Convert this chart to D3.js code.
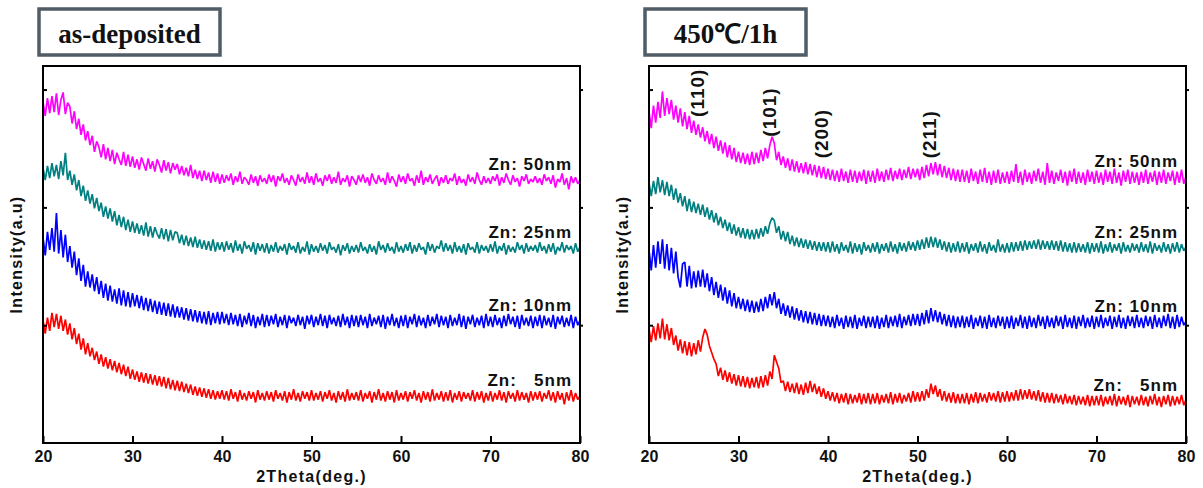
<!DOCTYPE html>
<html>
<head>
<meta charset="utf-8">
<script src="https://cdn.jsdelivr.net/npm/d3@7"></script>
<style>
  body { margin: 0; background: #fff; }
  .frame { fill: none; stroke: #000; stroke-width: 2; }
  .axis path { display: none; }
  .axis line { stroke: #000; stroke-width: 2; }
  .axis text { font-family: "Liberation Sans", Arial, sans-serif; font-weight: bold; font-size: 16px; fill: #111; }
  .trace { fill: none; stroke-width: 1.7; stroke-linejoin: bevel; }
</style>
</head>
<body>
<div id="chart"></div>
<script>
// XRD scans, 2theta from 20 to 80 deg, one point every 0.25 deg (241 points)
var scanStart = 20;
var scanStep = 0.25;

// as-deposited
var asDep50 = [
  362,347,366,350,368,351,371,348,364,372,349,361,357,339,352,333,344,327,338,321,
  331,316,326,309,320,314,303,317,301,313,299,311,296,308,301,295,309,294,306,293,
  304,292,301,290,303,296,289,302,291,299,288,301,295,287,300,289,298,286,297,290,
  296,285,294,284,292,283,295,281,290,280,289,278,289,279,287,276,288,277,286,275,
  285,276,284,278,286,274,283,277,288,275,282,279,274,285,276,283,273,284,277,281,
  275,285,277,284,272,283,278,286,276,281,274,284,279,273,285,277,282,275,287,276,
  283,274,286,277,281,273,284,278,285,275,282,276,288,274,281,277,284,272,283,279,
  274,284,277,285,276,282,273,286,279,275,284,277,281,274,287,276,283,278,272,285,
  277,283,275,286,278,281,273,284,276,289,274,282,277,285,275,280,284,273,282,276,
  284,275,281,278,286,274,283,276,280,273,285,277,282,275,287,279,274,283,276,281,
  275,283,278,285,273,282,276,286,279,274,284,277,281,272,283,278,285,275,280,277,
  283,276,281,274,285,278,282,275,284,271,280,277,286,274,281,269,283,276,282,275,
  279
];
var asDep25 = [
  292,279,294,281,297,283,295,280,299,284,308,279,289,274,285,268,279,262,273,257,
  268,254,264,249,260,246,255,240,251,238,249,235,246,231,242,229,240,226,237,224,
  235,223,233,222,231,220,234,219,230,218,229,222,217,228,216,227,214,226,215,224,
  223,212,221,210,220,209,218,208,219,207,216,206,215,205,214,204,216,203,213,205,
  213,203,214,205,212,202,215,204,211,201,214,206,210,203,213,200,212,204,211,202,
  212,201,210,203,213,202,209,204,211,200,212,205,209,202,213,201,208,203,214,200,
  211,203,209,202,212,204,210,201,213,205,208,202,211,199,210,204,212,201,209,203,
  210,202,213,204,208,201,211,203,209,200,214,205,210,202,212,204,208,201,213,203,
  209,202,211,204,213,201,210,203,212,205,208,200,213,204,211,202,209,206,215,203,
  212,204,210,201,213,203,209,202,211,200,212,205,208,202,213,201,210,204,209,202,
  211,203,214,201,209,204,212,200,210,203,208,202,213,205,210,201,212,203,209,204,
  210,202,213,204,209,201,211,203,212,200,208,204,213,202,210,205,209,201,212,203,
  208
];
var asDep10 = [
  218,199,224,205,228,203,244,201,226,197,221,192,209,186,203,178,196,172,189,166,
  182,165,179,161,176,158,172,154,169,151,167,150,163,148,164,146,162,145,160,144,
  159,145,157,143,156,141,154,140,153,139,151,137,150,136,149,135,148,134,147,133,
  145,133,144,131,143,130,142,129,141,128,140,127,139,126,140,125,138,127,139,126,
  139,127,137,125,138,126,136,124,137,123,135,126,138,124,136,122,134,125,137,123,
  136,124,135,126,137,123,134,125,136,122,135,127,133,124,136,125,134,121,135,126,
  136,123,134,125,137,124,135,122,136,126,133,124,135,123,137,125,134,122,136,124,
  135,123,136,125,134,122,137,124,133,126,135,123,136,121,134,125,137,124,133,122,
  135,124,136,122,134,126,137,123,135,125,133,122,136,124,134,126,137,123,135,125,
  134,122,136,124,133,125,137,123,135,121,134,126,136,123,133,125,135,122,137,124,
  134,123,136,125,133,122,135,124,137,126,134,123,135,121,136,125,133,124,135,122,
  134,124,136,122,135,125,133,123,136,121,134,126,135,123,133,124,136,122,134,125,
  130
];
var asDep5 = [
  130,116,133,119,138,123,137,121,135,119,131,115,127,110,122,105,116,99,111,94,
  106,92,101,88,97,84,94,81,91,79,89,77,87,75,85,73,83,71,81,68,
  78,67,76,65,75,64,74,63,73,62,72,61,71,60,70,58,69,57,67,56,
  66,55,65,54,63,53,62,51,60,50,59,49,58,48,57,47,56,46,55,47,
  56,46,55,45,57,47,54,44,56,46,53,45,55,47,54,43,56,46,53,45,
  55,46,54,44,56,47,53,45,55,43,54,46,57,45,53,44,55,47,54,45,
  56,45,53,46,55,44,54,47,56,45,53,43,55,46,54,44,57,45,53,46,
  54,45,56,44,53,47,55,43,54,46,57,45,53,44,55,46,54,43,56,45,
  53,46,55,44,54,47,56,45,53,43,55,46,54,44,57,45,53,46,55,44,
  54,45,56,43,53,46,55,44,54,47,53,45,56,44,54,46,55,43,53,45,
  55,44,53,46,56,45,54,43,55,47,53,44,56,45,54,46,53,43,55,45,
  54,46,55,44,53,47,56,45,54,43,55,46,53,41,54,45,56,44,53,46,
  50
];

// annealed 450 C / 1 h
var ann50 = [
  352,334,358,340,362,345,373,347,366,349,364,343,358,340,355,336,351,333,347,329,
  342,327,338,324,335,320,331,317,328,313,325,310,321,307,319,303,316,301,313,298,
  309,297,308,296,307,295,309,296,308,297,311,299,313,302,316,325,318,300,309,295,
  304,292,302,289,301,288,299,287,297,286,298,285,296,284,295,282,294,281,293,280,
  291,279,290,278,289,277,291,278,288,276,290,277,289,276,288,278,290,275,289,277,
  289,276,291,278,288,277,290,279,292,278,289,280,291,279,290,281,293,280,291,282,
  291,279,293,281,295,283,297,285,298,284,296,282,294,281,292,279,291,278,290,277,
  290,277,289,276,291,278,288,275,290,277,292,276,288,274,289,276,290,275,287,276,
  288,275,289,277,296,276,288,274,290,277,287,275,289,278,291,276,288,274,297,276,
  289,275,287,278,290,276,288,273,289,277,291,275,288,276,287,274,290,277,288,275,
  289,276,287,274,290,277,288,275,291,276,287,273,289,277,290,275,288,276,287,274,
  288,276,290,275,287,277,289,274,288,276,290,275,287,278,289,274,288,276,290,275,
  283
];
var ann25 = [
  276,262,278,264,282,266,279,263,277,262,274,258,270,255,265,251,262,246,259,245,
  256,244,254,242,253,240,250,237,247,234,244,231,240,228,237,225,234,222,232,220,
  229,218,228,217,227,216,226,216,227,217,228,219,230,222,233,239,236,223,230,216,
  225,214,224,211,220,209,218,208,217,207,216,206,215,205,214,204,213,204,213,203,
  213,202,214,203,211,201,213,204,210,202,214,201,212,203,211,200,213,204,210,202,
  212,203,213,201,211,204,212,202,214,203,211,201,213,204,212,203,214,205,213,204,
  215,205,216,206,218,207,219,208,218,207,216,205,214,203,213,202,212,203,214,202,
  212,203,213,201,211,204,212,202,214,203,211,201,213,204,210,202,216,203,211,202,
  212,202,213,203,213,204,214,204,215,205,214,206,215,206,216,205,215,206,214,205,
  215,205,214,204,215,203,213,203,212,202,213,202,212,203,211,202,213,201,212,203,
  212,202,214,201,211,203,213,202,211,204,212,201,213,203,210,202,212,204,211,202,
  213,203,211,202,214,201,212,204,210,202,213,203,211,201,212,203,213,202,211,204,
  208
];
var ann10 = [
  205,183,210,186,214,190,216,185,211,183,207,180,203,176,165,190,192,166,188,164,
  182,165,183,166,184,165,180,161,176,157,171,154,168,151,165,148,162,145,159,143,
  155,142,153,140,152,139,151,138,150,139,153,140,155,143,158,146,160,143,153,137,
  148,135,146,133,145,131,143,130,141,128,140,127,139,126,138,125,137,124,136,124,
  135,123,134,122,136,124,133,121,135,123,134,122,136,121,133,124,135,122,134,123,
  134,122,135,121,133,123,136,122,134,124,135,123,137,122,134,125,136,124,137,125,
  137,124,138,126,141,127,143,129,141,128,139,126,137,124,136,123,135,122,134,123,
  135,122,134,123,136,121,133,124,135,122,134,121,136,123,133,122,135,124,134,121,
  134,122,135,121,133,124,136,122,134,121,135,123,133,122,136,124,134,121,135,123,
  133,122,135,124,134,121,136,123,133,122,135,121,134,124,136,122,133,123,135,121,
  134,123,136,122,133,124,135,121,134,123,136,122,133,121,135,124,134,122,136,123,
  133,122,135,124,134,121,136,123,133,122,135,124,137,122,134,121,136,123,134,125,
  129
];
var ann5 = [
  121,107,124,109,127,111,132,110,126,109,122,104,114,98,110,95,108,93,107,92,
  106,94,109,97,112,121,115,103,96,89,84,71,80,67,77,65,75,63,73,61,
  72,60,71,59,70,58,69,59,70,58,71,59,72,61,76,68,93,86,79,64,
  66,55,65,54,63,53,64,52,62,51,64,53,66,54,63,52,60,49,58,47,
  55,45,54,44,53,42,52,43,53,41,52,42,51,43,53,41,52,42,53,41,
  52,42,53,41,51,43,52,42,54,41,52,43,53,42,51,44,53,43,55,44,
  54,44,55,45,57,48,63,52,61,49,57,45,55,44,53,43,54,42,52,42,
  52,42,53,41,52,43,54,42,53,44,52,43,54,45,53,44,55,43,54,44,
  55,44,54,45,56,45,57,46,56,47,57,46,55,45,56,44,54,43,53,43,
  53,42,52,43,51,41,52,42,50,41,51,40,50,41,49,40,51,39,50,40,
  50,40,51,39,49,41,50,40,52,39,50,41,49,40,51,38,50,41,49,40,
  51,40,49,39,50,41,52,40,49,38,50,41,51,39,50,40,49,41,51,40,
  46
];

var seriesLabels = ["Zn: 50nm", "Zn: 25nm", "Zn: 10nm", "Zn:   5nm"];
var panelTitles = ["as-deposited", "450\u2103/1h"];
var xTicks = [20, 30, 40, 50, 60, 70, 80];
var yTicks = [125, 250, 375];

// peak labels on the annealed panel (2theta of the label, level in a.u.)
var peakNames = ["(110)", "(101)", "(200)", "(211)"];
var peakTheta = [25.4, 33.4, 39.3, 51.3];
var peakLevel = [346, 325, 302, 302];

var seriesColors = ["#ff00ff", "#008080", "#0000ff", "#ff0000"];

var svgWidth = 1203;
var svgHeight = 488;

var svg = d3.select("#chart")
            .append("svg")
            .attr("width", svgWidth)
            .attr("height", svgHeight);

var plotTop = 66;
var plotBottom = 443;
var panelLeft = [43, 649];
var panelWidth = 537;
var height = plotBottom - plotTop;

var panels = [
    { title: panelTitles[0], series: [asDep50, asDep25, asDep10, asDep5], peaks: false },
    { title: panelTitles[1], series: [ann50, ann25, ann10, ann5], peaks: true }
];

var y = d3.scaleLinear().domain([0, 400]).range([height, 0]);

panels.forEach(function(panel, p){
    var x = d3.scaleLinear().domain([20, 80]).range([0, panelWidth]);

    var g = svg.append("g")
               .attr("transform", `translate(${panelLeft[p]}, ${plotTop})`);

    // clip the traces to the plot area
    g.append("clipPath")
     .attr("id", "clip" + p)
     .append("rect")
     .attr("width", panelWidth)
     .attr("height", height);

    var line = d3.line()
                 .x((d, i) => x(scanStart + i * scanStep))
                 .y(d => y(d));

    panel.series.forEach(function(values, s){
        g.append("path")
         .attr("class", "trace")
         .attr("clip-path", `url(#clip${p})`)
         .attr("stroke", seriesColors[s])
         .attr("d", line(values));

        // label sits a little above the flat tail of the trace
        var tail = d3.mean(values.slice(-40));
        g.append("text")
         .attr("x", panelWidth - 8)
         .attr("y", y(tail) - 10)
         .attr("text-anchor", "end")
         .style("white-space", "pre")
         .attr("font-family", "Liberation Sans, Arial, sans-serif")
         .attr("font-weight", "bold")
         .attr("font-size", 17)
         .attr("letter-spacing", 1)
         .attr("fill", "#111")
         .text(seriesLabels[s]);
    });

    // bottom axis, ticks pointing in
    var xAxis = g.append("g")
                 .attr("class", "axis")
                 .attr("transform", `translate(0, ${height})`)
                 .call(d3.axisBottom(x).tickValues(xTicks).tickSizeInner(-7).tickSizeOuter(0).tickPadding(8));
    xAxis.attr("font-family", null).attr("font-size", null);

    // left and right axes, no labels
    g.append("g")
     .attr("class", "axis")
     .call(d3.axisLeft(y).tickValues(yTicks).tickSizeInner(-4).tickSizeOuter(0).tickFormat(""));
    g.append("g")
     .attr("class", "axis")
     .attr("transform", `translate(${panelWidth}, 0)`)
     .call(d3.axisRight(y).tickValues(yTicks).tickSizeInner(3).tickSizeOuter(0).tickFormat(""));

    g.append("rect")
     .attr("class", "frame")
     .attr("width", panelWidth)
     .attr("height", height);

    // axis titles
    g.append("text")
     .attr("x", panelWidth / 2)
     .attr("y", height + 39)
     .attr("text-anchor", "middle")
     .attr("font-family", "Liberation Sans, Arial, sans-serif")
     .attr("font-weight", "bold")
     .attr("font-size", 16)
     .attr("letter-spacing", 1.3)
     .attr("fill", "#111")
     .text("2Theta(deg.)");

    g.append("text")
     .attr("transform", `translate(-21, ${height / 2}) rotate(-90)`)
     .attr("text-anchor", "middle")
     .attr("font-family", "Liberation Sans, Arial, sans-serif")
     .attr("font-weight", "bold")
     .attr("font-size", 16)
     .attr("letter-spacing", 1.3)
     .attr("fill", "#111")
     .text("Intensity(a.u)");

    // boxed panel title
    g.append("rect")
     .attr("x", -4)
     .attr("y", -57)
     .attr("width", p === 0 ? 181 : 161)
     .attr("height", 46)
     .attr("fill", "#fff")
     .attr("stroke", "#505c66")
     .attr("stroke-width", 3.5);

    g.append("text")
     .attr("x", -4 + (p === 0 ? 181 : 161) / 2)
     .attr("y", -23)
     .attr("text-anchor", "middle")
     .attr("font-family", "Liberation Serif, Times New Roman, serif")
     .attr("font-weight", "bold")
     .attr("font-size", 27)
     .attr("fill", "#111")
     .text(panel.title);

    if (panel.peaks){
        peakNames.forEach(function(name, k){
            g.append("text")
             .attr("transform", `translate(${x(peakTheta[k])}, ${y(peakLevel[k])}) rotate(-90)`)
             .attr("dy", "0.35em")
             .attr("font-family", "Liberation Sans, Arial, sans-serif")
             .attr("font-weight", "bold")
             .attr("font-size", 19)
             .attr("letter-spacing", 1)
             .attr("fill", "#111")
             .text(name);
        });
    }
});
</script>
</body>
</html>
